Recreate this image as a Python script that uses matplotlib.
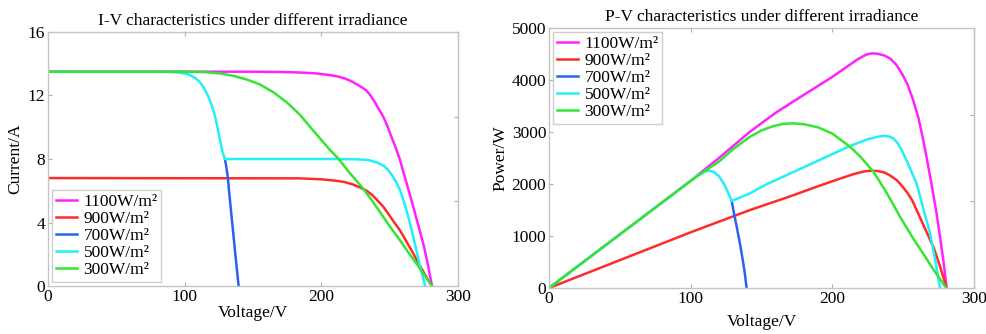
import matplotlib
matplotlib.use('Agg')
import matplotlib.pyplot as plt

plt.rcParams['font.family'] = ['Liberation Serif', 'DejaVu Serif']
plt.rcParams['font.size'] = 12.5

labels = ['1100W/m²', '900W/m²', '700W/m²', '500W/m²', '300W/m²']
colors = ['#ff22ff', '#ff2a2a', '#2a62f0', '#22f0f8', '#33e633']

# I-V curves (voltage V, current A)
iv_1100_v = [0, 150, 170, 184, 195, 205, 212, 218, 223, 227, 230, 233.2, 236, 239, 242, 245.3, 248.5, 251.5,
             254.5, 257.6, 260.5, 264, 267.3, 271, 274.6, 278, 281]
iv_1100_i = [13.5, 13.5, 13.48, 13.45, 13.4, 13.3, 13.2, 13.05, 12.85, 12.65, 12.5, 12.3, 12.0, 11.6, 11.15,
             10.67, 10.05, 9.35, 8.7, 7.94, 7.05, 6.0, 4.99, 3.8, 2.68, 1.35, 0]

iv_900_v = [0, 184.4, 200, 210, 217, 223, 228, 233.2, 237, 241, 245.3, 249, 253, 257.6, 262, 267.3, 271,
            274.6, 278, 281]
iv_900_i = [6.8, 6.78, 6.72, 6.64, 6.55, 6.4, 6.22, 6.0, 5.75, 5.4, 5.0, 4.55, 4.05, 3.5, 2.85, 2.05, 1.45,
            0.9, 0.4, 0]

iv_700_v = [129.5, 130.5, 131.5, 133.5, 135.6, 137.5, 139.5]
iv_700_i = [8.0, 7.5, 6.9, 5.1, 3.3, 1.65, 0]

iv_500_v = [0, 85, 95, 102, 107, 111, 114, 117, 120, 122.5, 124.5, 126.3, 127.8, 129.5, 184, 210, 225, 233,
            236, 240, 243, 246, 249, 252, 255, 257.6, 260.5, 263.5, 267.3, 271, 275.9]
iv_500_i = [13.5, 13.5, 13.45, 13.35, 13.15, 12.85, 12.5, 12.0, 11.35, 10.6, 9.8, 9.0, 8.4, 8.0, 8.0, 8.0,
            7.98, 7.95, 7.9, 7.8, 7.7, 7.55, 7.3, 6.95, 6.5, 6.04, 5.3, 4.4, 3.1, 1.7, 0]

iv_300_v = [0, 100, 115, 125, 135, 145, 155, 165, 175, 184.4, 192, 200, 206, 212.4, 220, 229.5, 237, 245.3,
            251, 257.6, 263, 269.7, 275, 281]
iv_300_i = [13.5, 13.5, 13.47, 13.4, 13.25, 13.02, 12.7, 12.2, 11.55, 10.78, 10.0, 9.2, 8.6, 8.04, 7.2, 6.25,
            5.4, 4.36, 3.65, 2.88, 2.2, 1.41, 0.75, 0]

# P-V curves (voltage V, power W)
pv_1100_v = [0, 100, 120, 141.9, 160, 175, 189, 200, 210, 218, 224, 228, 232, 237, 241, 245, 249, 253, 257,
             261, 264.2, 267, 270, 273.6, 276.5, 279, 280.7]
pv_1100_p = [0, 2060, 2500, 3006, 3370, 3630, 3871, 4060, 4250, 4400, 4490, 4513, 4505, 4470, 4410, 4300,
             4130, 3920, 3620, 3250, 2846, 2450, 2000, 1436, 900, 400, 0]

pv_900_v = [0, 100, 141.9, 170, 189, 205, 215, 222, 227, 232, 237, 241, 245.4, 249, 253, 256.5, 259.5, 265,
            271.3, 276, 280.7]
pv_900_p = [0, 1071, 1500, 1760, 1948, 2100, 2190, 2240, 2256, 2250, 2220, 2160, 2077, 1970, 1830, 1680,
            1500, 1170, 794, 420, 0]

pv_700_v = [129, 130.5, 132.5, 134.5, 136, 138, 139.5]
pv_700_p = [1673, 1450, 1180, 900, 670, 330, 0]

pv_500_v = [0, 100, 105, 110, 112.5, 116, 120, 124, 127, 129, 141.9, 152.5, 212.5, 225, 232, 236, 240, 243,
            246, 249, 253, 256, 259.5, 264, 269, 272.5, 276]
pv_500_p = [0, 2060, 2170, 2240, 2256, 2240, 2150, 1980, 1800, 1673, 1821, 1981, 2731, 2860, 2910, 2923,
            2915, 2880, 2790, 2650, 2420, 2230, 2013, 1550, 1051, 560, 0]

pv_300_v = [0, 100, 110, 120, 130, 141.9, 150, 158, 165, 172, 180, 190, 200, 212.5, 220, 229, 238, 247.8,
            256, 264, 272, 280.5]
pv_300_p = [0, 2060, 2250, 2430, 2670, 2910, 3030, 3110, 3155, 3167, 3150, 3090, 2970, 2717, 2520, 2237,
            1850, 1371, 1000, 667, 330, 0]

iv_data = [(iv_1100_v, iv_1100_i), (iv_900_v, iv_900_i), (iv_700_v, iv_700_i),
           (iv_500_v, iv_500_i), (iv_300_v, iv_300_i)]
pv_data = [(pv_1100_v, pv_1100_p), (pv_900_v, pv_900_p), (pv_700_v, pv_700_p),
           (pv_500_v, pv_500_p), (pv_300_v, pv_300_p)]

fig = plt.figure(figsize=(9.87, 3.34), dpi=100)
ax1 = fig.add_axes([0.0486, 0.1437, 0.4154, 0.7605])
ax2 = fig.add_axes([0.5562, 0.1377, 0.4306, 0.7784])


def style(ax, ymax, yticks):
    ax.set_xlim(0, 300)
    ax.set_ylim(0, ymax)
    ax.set_xticks([0, 100, 200, 300])
    ax.set_yticks(yticks)
    for s in ax.spines.values():
        s.set_color('#c4c4c4')
        s.set_linewidth(1.0)
    ax.tick_params(direction='in', length=3, color='#b0b0b0', top=True, labelsize=12.5, pad=2)
    ax.tick_params(axis='y', right=False)
    # right spine ticks at thirds
    sec = ax.secondary_yaxis('right')
    sec.set_yticks([ymax / 3, 2 * ymax / 3])
    sec.set_yticklabels([])
    sec.tick_params(direction='in', length=3, color='#b0b0b0')
    sec.spines['right'].set_color('#c4c4c4')


for (v, y), c, lab in zip(iv_data, colors, labels):
    ax1.plot(v, y, color=c, lw=1.8, label=lab, solid_joinstyle='round')
for (v, y), c, lab in zip(pv_data, colors, labels):
    ax2.plot(v, y, color=c, lw=1.8, label=lab, solid_joinstyle='round')

style(ax1, 16, [0, 4, 8, 12, 16])
style(ax2, 5000, [0, 1000, 2000, 3000, 4000, 5000])

ax1.set_title('I-V characteristics under different irradiance', fontsize=12.5, pad=5)
ax1.set_xlabel('Voltage/V', fontsize=12.5, labelpad=0)
ax1.set_ylabel('Current/A', fontsize=12.5, labelpad=3)
ax2.set_title('P-V characteristics under different irradiance', fontsize=12.5, pad=5)
ax2.set_xlabel('Voltage/V', fontsize=12.5, labelpad=5)
ax2.set_ylabel('Power/W', fontsize=12.5, labelpad=2)

for ax, loc in [(ax1, 'lower left'), (ax2, 'upper left')]:
    leg = ax.legend(loc=loc, fontsize=12.5, frameon=True, fancybox=False,
                    borderaxespad=0.25, handlelength=1.2, handletextpad=0.4,
                    labelspacing=0.05, borderpad=0.2)
    leg.get_frame().set_edgecolor('#c4c4c4')
    leg.get_frame().set_linewidth(1.0)

fig.savefig('out.png', dpi=100)
